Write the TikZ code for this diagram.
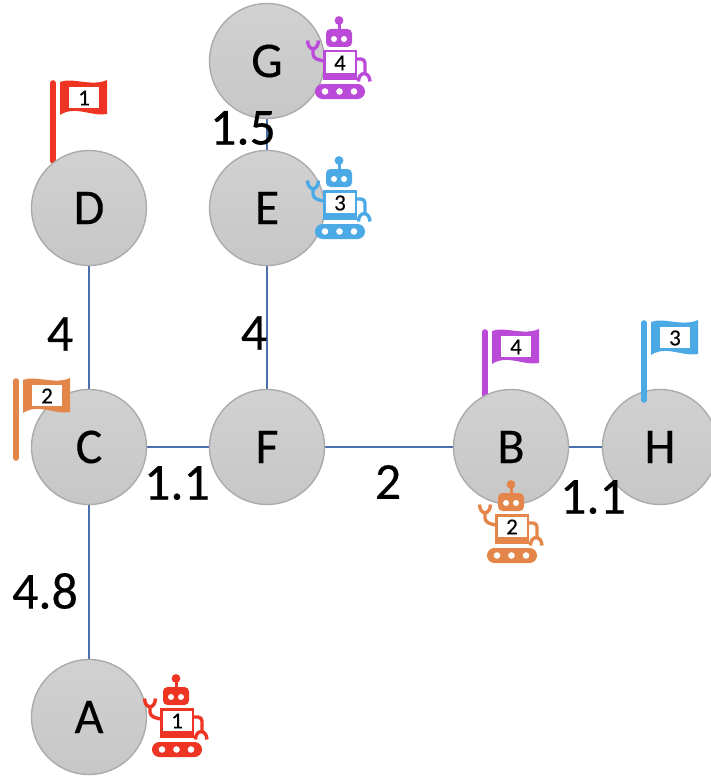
\documentclass[tikz,border=0pt]{standalone}
\usepackage{fontspec}
\setmainfont{Carlito}
\newfontfamily\heavy[FakeBold=0.25]{Carlito}
\definecolor{cred}{HTML}{EE3524}
\definecolor{corange}{HTML}{E4864A}
\definecolor{cblue}{HTML}{4BA9E6}
\definecolor{cpurple}{HTML}{BC4AD9}
\definecolor{edgeblue}{HTML}{4A70AC}
\tikzset{
  place/.style={circle,draw=black!33,line width=1.4pt,top color=black!18,bottom color=black!22,minimum size=115pt,inner sep=0pt,font=\heavy\fontsize{50}{50}\selectfont},
  link/.style={draw=edgeblue,line width=1.4pt},
  weight/.style={inner sep=0pt,font=\heavy\fontsize{52}{52}\selectfont},
  tag/.style={inner sep=0pt,font=\heavy\fontsize{23}{23}\selectfont,text=black},
}
% x shift, y shift, colour, number, node name
\newcommand{\robotat}[5]{%
\begin{scope}[shift={(#1,#2)}]
  \fill[#3] (339,20.5) circle (4.4);
  \draw[#3,line width=3pt] (339,20) -- (339,30);
  \fill[#3,rounded corners=4.5pt] (326,29) rectangle (352,47);
  \fill[white] (334,39) circle (3) (344,39) circle (3);
  \fill[#3] (322.5,50) rectangle (357,80);
  \fill[white] (325.5,52.5) rectangle (354.5,72.5);
  \fill[#3,rounded corners=7.4pt] (315,84) rectangle (365,99);
  \fill[white] (325,91.5) circle (3.3) (339.5,91.5) circle (3.3) (354,91.5) circle (3.3);
  \draw[#3,line width=3.4pt,line join=round,rounded corners=4pt] (323,61) -- (313,58) -- (313,47);
  \draw[#3,line width=3.4pt] (307.5,40.5) .. controls (308,51.5) and (318,51.5) .. (318.5,40.5);
  \draw[#3,line width=3.4pt,line join=round,rounded corners=4pt] (356,59) -- (365,59) -- (365,74);
  \draw[#3,line width=3.4pt] (358.5,81.5) .. controls (358.5,71) and (369.5,71) .. (370,81.5);
  \node[tag] (#5) at (340,63) {#4};
\end{scope}}
% x shift, y shift, colour, number, pole length, node name
\newcommand{\flagat}[6]{%
\begin{scope}[shift={(#1,#2)}]
  \draw[#3,line width=5.6pt,line cap=round] (53,83) -- (53,{80+#5});
  \fill[#3] (60,82) .. controls (72,77) and (92,87) .. (107,80) -- (107,114)
     .. controls (92,117) and (75,105) .. (60,115) -- cycle;
  \fill[white] (69,87) rectangle (99,108);
  \node[tag] (#6) at (84,98) {#4};
\end{scope}}
\begin{document}
\begin{tikzpicture}[x=1pt,y=-1pt]
\useasboundingbox (0,0) rectangle (710,776);
\coordinate (Gc) at (267,61);
\coordinate (Dc) at (89,208);
\coordinate (Ec) at (267,208);
\coordinate (Cc) at (89,447);
\coordinate (Fc) at (267,447);
\coordinate (Bc) at (511,447);
\coordinate (Hc) at (660,447);
\coordinate (Ac) at (89,717);
\draw[link] (Gc) -- (Ec);
\draw[link] (Dc) -- (Cc);
\draw[link] (Cc) -- (Ac);
\draw[link] (Ec) -- (Fc);
\draw[link] (Cc) -- (Fc);
\draw[link] (Fc) -- (Bc);
\draw[link] (Bc) -- (Hc);
\flagat{0}{0}{cred}{1}{81}{flagone}
\flagat{432}{249}{cpurple}{4}{68}{flagfour}
\node[place] (G) at (Gc) {G};
\node[place] (D) at (Dc) {D};
\node[place] (E) at (Ec) {E};
\node[place] (C) at (Cc) {C};
\node[place] (F) at (Fc) {F};
\node[place] (B) at (Bc) {B};
\node[place] (H) at (Hc) {H};
\node[place] (A) at (Ac) {A};
\flagat{-37}{298}{corange}{2}{80}{flagtwo}
\flagat{591}{240}{cblue}{3}{80}{flagthree}
\robotat{0}{0}{cpurple}{4}{robotfour}
\robotat{0}{140}{cblue}{3}{robotthree}
\robotat{172}{464}{corange}{2}{robottwo}
\robotat{-163}{658}{cred}{1}{robotone}
\node[weight] (w1) at (243,128) {1.5};
\node[weight] (w2) at (60,334) {4};
\node[weight] (w3) at (254,333) {4};
\node[weight] (w4) at (177,483) {1.1};
\node[weight] (w5) at (388,482) {2};
\node[weight] (w6) at (593,497) {1.1};
\node[weight] (w7) at (45,591) {4.8};
\end{tikzpicture}
\end{document}
